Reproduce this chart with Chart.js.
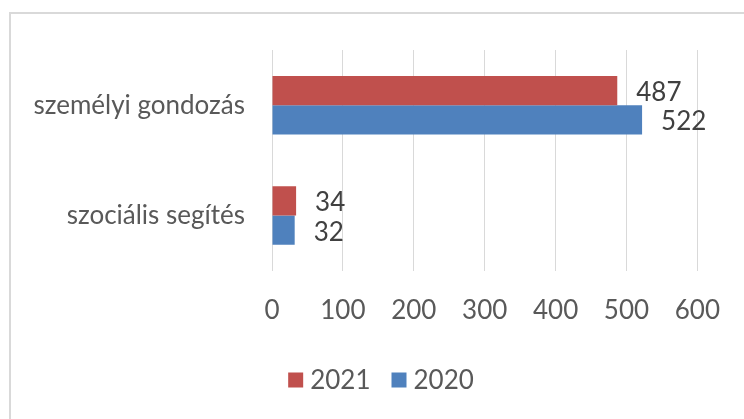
<!DOCTYPE html>
<html>
<head>
<meta charset="utf-8">
<script src="https://cdn.jsdelivr.net/npm/chart.js@4/dist/chart.umd.min.js"></script>
<style>
  html,body{margin:0;padding:0;background:#fff;overflow:hidden;}
  #wrap{position:relative;width:744px;height:419px;}
  #frame{position:absolute;left:9px;top:12px;width:800px;height:500px;border:2px solid #d9d9d9;box-sizing:border-box;}
  #c{position:absolute;left:0;top:0;}
</style>
</head>
<body>
<div id="wrap">
  <div id="frame"></div>
  <canvas id="c" width="744" height="419"></canvas>
</div>
<script>
var categories = ["személyi gondozás", "szociális segítés"];
var series2021 = [487, 34];
var series2020 = [522, 32];
var seriesNames = ["2021", "2020"];
var xTicks = [0, 100, 200, 300, 400, 500, 600];

var FONT = "Lato, 'Open Sans', sans-serif";

// value labels at bar ends
var valueLabels = {
  id: "valueLabels",
  afterDatasetsDraw: function(chart){
    var ctx = chart.ctx;
    ctx.save();
    ctx.font = "26px " + FONT;
    ctx.fillStyle = "#404040";
    ctx.textAlign = "left";
    ctx.textBaseline = "middle";
    chart.data.datasets.forEach(function(ds, i){
      chart.getDatasetMeta(i).data.forEach(function(bar, j){
        ctx.fillText(String(ds.data[j]), bar.x + 19, bar.y + 2);
      });
    });
    ctx.restore();
  }
};

// excel-like legend: small gap between box and text
var bottomLegend = {
  id: "bottomLegend",
  afterDraw: function(chart){
    var ctx = chart.ctx;
    ctx.save();
    ctx.font = "26px " + FONT;
    ctx.textBaseline = "middle";
    var box = 15, gap = 7, spacing = 21, cy = 380;
    var items = chart.data.datasets.map(function(ds){
      return { text: ds.label, color: ds.backgroundColor, w: box + gap + ctx.measureText(ds.label).width };
    });
    var total = items.reduce(function(a, it){ return a + it.w; }, 0) + spacing * (items.length - 1);
    var x = 381 - total / 2;
    items.forEach(function(it){
      ctx.fillStyle = it.color;
      ctx.fillRect(x, cy - box / 2, box, box);
      ctx.fillStyle = "#595959";
      ctx.fillText(it.text, x + box + gap, cy + 1);
      x += it.w + spacing;
    });
    ctx.restore();
  }
};

new Chart(document.getElementById("c"), {
  type: "bar",
  data: {
    labels: categories,
    datasets: [
      { label: seriesNames[0], data: series2021, backgroundColor: "#c0504d", barPercentage: 1, categoryPercentage: 0.53 },
      { label: seriesNames[1], data: series2020, backgroundColor: "#4f81bd", barPercentage: 1, categoryPercentage: 0.53 }
    ]
  },
  options: {
    indexAxis: "y",
    responsive: false,
    animation: false,
    layout: { padding: { top: 50, left: 0, right: 46, bottom: 69 } },
    scales: {
      x: {
        min: 0, max: 600,
        afterBuildTicks: function(s){ s.ticks = xTicks.map(function(v){ return {value: v}; }); },
        grid: { color: "#d9d9d9", lineWidth: 1, drawTicks: false },
        border: { display: false },
        ticks: { color: "#595959", font: { family: FONT, size: 26 }, padding: 24 }
      },
      y: {
        afterFit: function(s){ s.width = 272; },
        grid: { display: false, drawTicks: false },
        border: { display: false },
        ticks: { color: "#595959", font: { family: FONT, size: 26 }, padding: 27 }
      }
    },
    plugins: {
      tooltip: { enabled: false },
      legend: { display: false }
    }
  },
  plugins: [valueLabels, bottomLegend]
});
</script>
</body>
</html>
